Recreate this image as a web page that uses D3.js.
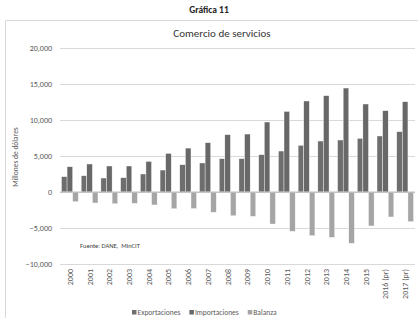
<!DOCTYPE html>
<html><head><meta charset="utf-8">
<script src="https://cdn.jsdelivr.net/npm/d3@7"></script>
<style>body{margin:0;background:#fff}svg{display:block;font-family:Calibri,Carlito,Lato,"Liberation Sans",Arial,sans-serif}</style>
</head><body>
<svg id="c" width="418" height="320"></svg>
<script>
const years = ["2000","2001","2002","2003","2004","2005","2006","2007","2008","2009","2010","2011","2012","2013","2014","2015","2016 (pr)","2017 (pr)"];
const exportaciones = [2130,2260,1940,1990,2500,3050,3790,4030,4630,4630,5180,5690,6480,7080,7220,7450,7780,8380];
const importaciones = [3510,3890,3610,3610,4250,5360,6100,6850,7960,8050,9720,11190,12640,13380,14440,12220,11290,12540];
const balanza = [-1350,-1530,-1630,-1580,-1800,-2320,-2300,-2820,-3300,-3380,-4450,-5460,-6070,-6300,-7130,-4720,-3470,-4120];
const yTicks = [-10000,-5000,0,5000,10000,15000,20000];
const seriesNames = ["Exportaciones","Importaciones","Balanza"];
const colors = ["#6e6e6e","#686868","#a5a5a5"];
const FONT = "Calibri,Carlito,Lato,'Liberation Sans',sans-serif";

const svg = d3.select("#c");
const L = 60, R = 415, T = 48, B = 264;
const x = d3.scaleBand().domain(years).range([L, R]);
const y = d3.scaleLinear().domain([-10000, 20000]).range([B, T]);
const inner = d3.scaleBand().domain(seriesNames).range([0, x.bandwidth()]).paddingOuter(0.26).paddingInner(0);

// frame
svg.append("path").attr("d","M5.5,318 V20.5 H418").attr("fill","none").attr("stroke","#d9d9d9").attr("stroke-width",1);

svg.append("text").attr("x",209).attr("y",13).attr("text-anchor","middle")
  .attr("font-size",9.5).attr("font-weight","bold").attr("fill","#222").text("Gráfica 11");
svg.append("text").attr("x",222).attr("y",37).attr("text-anchor","middle")
  .attr("font-size",11).attr("fill","#333").text("Comercio de servicios");

// grid
const yAxis = d3.axisLeft(y).tickValues(yTicks).tickSize(-(R-L)).tickFormat(d3.format(",")).tickPadding(8);
const ga = svg.append("g").attr("transform",`translate(${L},0)`).call(yAxis);
ga.select(".domain").remove();
ga.selectAll(".tick line").attr("stroke", d => d===0 ? "#bfbfbf" : "#d9d9d9");
ga.selectAll(".tick text").attr("font-size",8).attr("fill","#595959").attr("font-family",FONT);

svg.append("text").attr("transform","translate(18,157) rotate(-90)").attr("text-anchor","middle")
  .attr("font-size",7.5).attr("fill","#595959").text("Millones de dólares");

const data = years.map((yr,i)=>({yr, vals:[exportaciones[i],importaciones[i],balanza[i]]}));
const g = svg.append("g");
data.forEach(d=>{
  d.vals.forEach((v,j)=>{
    g.append("rect")
      .attr("x", x(d.yr) + inner(seriesNames[j]))
      .attr("width", inner.bandwidth())
      .attr("y", Math.min(y(v), y(0)))
      .attr("height", Math.abs(y(v) - y(0)))
      .attr("fill", colors[j]).attr("stroke","#fff").attr("stroke-width",0.4);
  });
});
svg.append("line").attr("x1",L).attr("x2",R).attr("y1",y(0)).attr("y2",y(0)).attr("stroke","#bfbfbf");

// x labels
const xAxis = d3.axisBottom(x).tickSize(0).tickPadding(0);
const gx = svg.append("g").attr("transform",`translate(0,${B+5})`).call(xAxis);
gx.select(".domain").remove();
gx.selectAll(".tick text").attr("font-size",8).attr("fill","#595959")
  .attr("font-family",FONT)
  .attr("text-anchor","end").attr("dy",null).attr("y",0).attr("x",0)
  .attr("transform","rotate(-90) translate(0,3)");

svg.append("text").attr("x",80).attr("y",248).attr("font-size",6.5).attr("fill","#404040")
  .attr("xml:space","preserve").text("Fuente: DANE,  MinCIT");

// legend
let lx = 132;
seriesNames.forEach((n,i)=>{
  svg.append("rect").attr("x",lx).attr("y",310).attr("width",4.5).attr("height",4.5).attr("fill",colors[i]);
  const t = svg.append("text").attr("x",lx+5.5).attr("y",315).attr("font-size",7.5).attr("fill","#595959").text(n);
  const w = t.node().getComputedTextLength();
  lx = lx + 5.5 + w + 9;
});
</script>
</body></html>
